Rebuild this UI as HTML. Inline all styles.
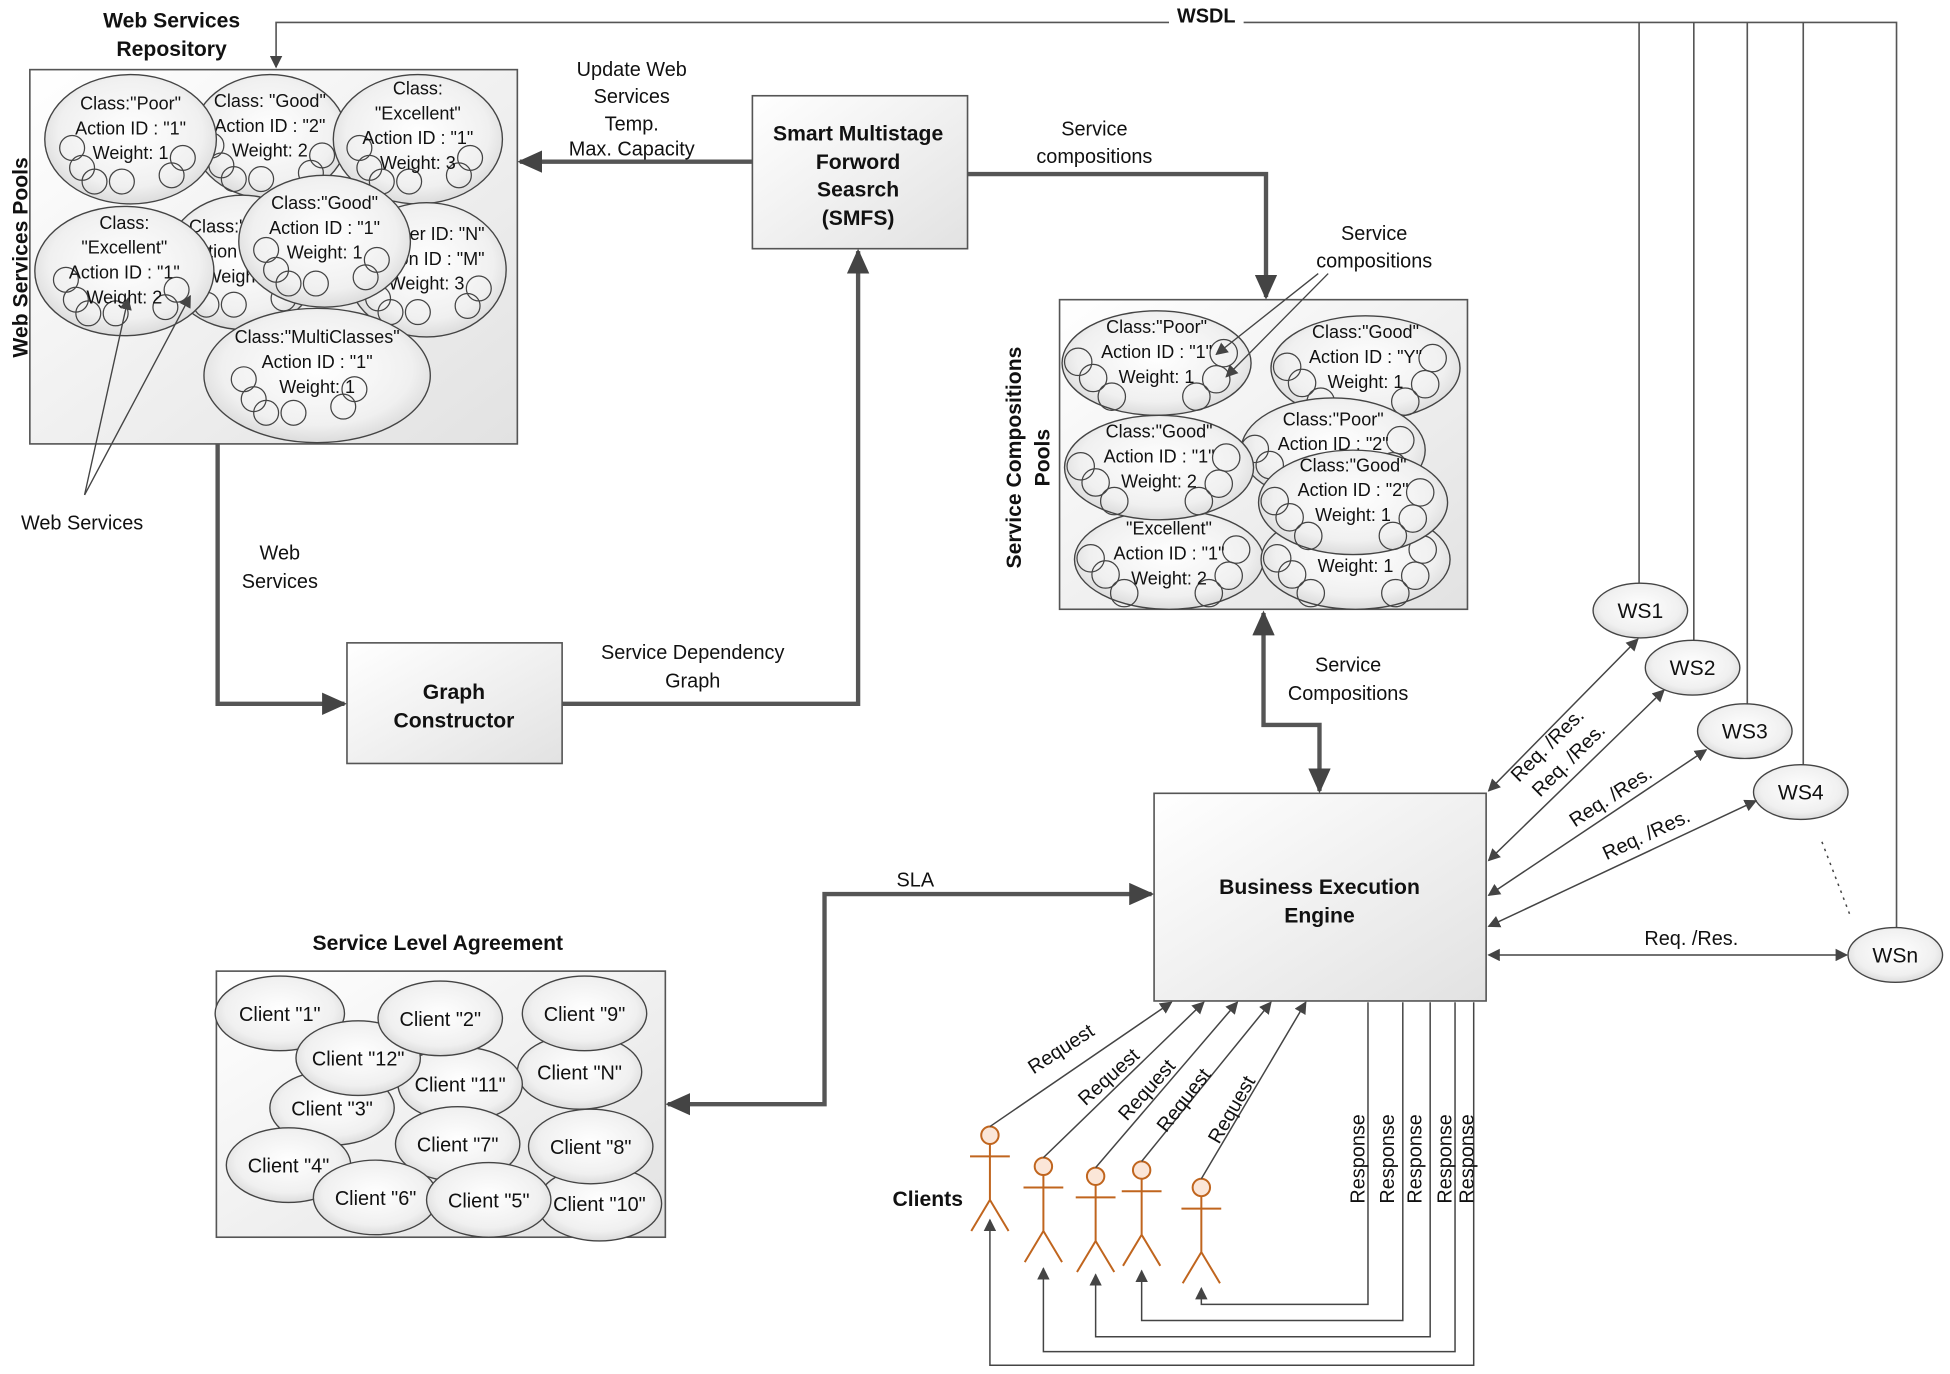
<!DOCTYPE html>
<html><head><meta charset="utf-8"><style>
html,body{margin:0;padding:0;background:#fff;}
svg{display:block;}
text{font-family:"Liberation Sans",sans-serif;fill:#111;}
.b{font-weight:bold;}
</style></head><body>
<svg width="1950" height="1374" viewBox="0 0 1568 1105" preserveAspectRatio="none" xmlns="http://www.w3.org/2000/svg">
<defs>
<radialGradient id="eg" cx="50%" cy="45%" r="60%"><stop offset="0" stop-color="#ffffff"/><stop offset="0.7" stop-color="#f0f0f0"/><stop offset="1" stop-color="#d4d4d4"/></radialGradient>
<linearGradient id="bg" x1="0" y1="0" x2="1" y2="1"><stop offset="0" stop-color="#ffffff"/><stop offset="1" stop-color="#e2e2e2"/></linearGradient>
<marker id="at" markerWidth="10" markerHeight="10" refX="9" refY="5" orient="auto" markerUnits="userSpaceOnUse"><path d="M0,0 L10,5 L0,10 z" fill="#444"/></marker>
<marker id="as" markerWidth="10" markerHeight="10" refX="1" refY="5" orient="auto" markerUnits="userSpaceOnUse"><path d="M10,0 L0,5 L10,10 z" fill="#444"/></marker>
<marker id="AT" markerWidth="20" markerHeight="18" refX="18" refY="9" orient="auto" markerUnits="userSpaceOnUse"><path d="M0,0 L20,9 L0,18 z" fill="#444"/></marker>
<marker id="AS" markerWidth="20" markerHeight="18" refX="2" refY="9" orient="auto" markerUnits="userSpaceOnUse"><path d="M20,0 L0,9 L20,18 z" fill="#444"/></marker>
<g id="cl" fill="none" stroke="#444" stroke-width="1">
<circle cx="-47" cy="7" r="10"/><circle cx="-39" cy="23" r="10"/><circle cx="-29" cy="34" r="10"/><circle cx="-7" cy="34" r="10"/><circle cx="33" cy="29" r="10"/><circle cx="42" cy="15" r="10"/>
</g>
<g id="cs" fill="none" stroke="#444" stroke-width="1">
<circle cx="-63" cy="-1" r="11"/><circle cx="-51" cy="12" r="11"/><circle cx="-36" cy="27" r="11"/><circle cx="32" cy="27" r="11"/><circle cx="48" cy="13" r="11"/><circle cx="54" cy="-8" r="11"/>
</g>
</defs>

<!-- WSDL lines -->
<g stroke="#555" stroke-width="1.3" fill="none">
<path d="M1525,748 L1525,18 L222,18 L222,54" marker-end="url(#at)"/>
<path d="M1318,18 L1318,472"/>
<path d="M1362,18 L1362,518"/>
<path d="M1405,18 L1405,568"/>
<path d="M1450,18 L1450,618"/>
</g>
<rect x="940" y="4" width="60" height="20" fill="#fff"/>
<text x="970" y="18" class="b" font-size="16" text-anchor="middle">WSDL</text>

<!-- Repository -->
<text x="138" y="22" class="b" font-size="17" text-anchor="middle">Web Services</text>
<text x="138" y="45" class="b" font-size="17" text-anchor="middle">Repository</text>
<rect x="24" y="56" width="392" height="301" fill="url(#bg)" stroke="#555" stroke-width="1.3"/>
<text transform="translate(22,207) rotate(-90)" class="b" font-size="17" text-anchor="middle">Web Services Pools</text>

<g stroke="#444" stroke-width="1.1" font-size="14.5">
<g transform="translate(217,110)"><ellipse rx="62" ry="50" fill="url(#eg)"/><use href="#cl"/><text y="-24" text-anchor="middle" stroke="none">Class: "Good"</text><text y="-4" text-anchor="middle" stroke="none">Action ID : "2"</text><text y="16" text-anchor="middle" stroke="none">Weight: 2</text></g>
<g transform="translate(105,112)"><ellipse rx="69" ry="52" fill="url(#eg)"/><use href="#cl"/><text y="-24" text-anchor="middle" stroke="none">Class:"Poor"</text><text y="-4" text-anchor="middle" stroke="none">Action ID : "1"</text><text y="16" text-anchor="middle" stroke="none">Weight: 1</text></g>
<g transform="translate(336,112)"><ellipse rx="68" ry="52" fill="url(#eg)"/><use href="#cl"/><text y="-36" text-anchor="middle" stroke="none">Class:</text><text y="-16" text-anchor="middle" stroke="none">"Excellent"</text><text y="4" text-anchor="middle" stroke="none">Action ID : "1"</text><text y="24" text-anchor="middle" stroke="none">Weight: 3</text></g>
<g transform="translate(195,211)"><ellipse rx="62" ry="54" fill="url(#eg)"/><use href="#cl"/><text y="-24" text-anchor="middle" stroke="none">Class:"Good"</text><text y="-4" text-anchor="middle" stroke="none">Action ID : "1"</text><text y="16" text-anchor="middle" stroke="none">Weight: 1</text></g>
<g transform="translate(343,217)"><ellipse rx="64" ry="54" fill="url(#eg)"/><use href="#cl"/><text y="-24" text-anchor="middle" stroke="none">Cluster ID: "N"</text><text y="-4" text-anchor="middle" stroke="none">Action ID : "M"</text><text y="16" text-anchor="middle" stroke="none">Weight: 3</text></g>
<g transform="translate(261,194)"><ellipse rx="69" ry="53" fill="url(#eg)"/><use href="#cl"/><text y="-26" text-anchor="middle" stroke="none">Class:"Good"</text><text y="-6" text-anchor="middle" stroke="none">Action ID : "1"</text><text y="14" text-anchor="middle" stroke="none">Weight: 1</text></g>
<g transform="translate(100,218)"><ellipse rx="72" ry="52" fill="url(#eg)"/><use href="#cl"/><text y="-34" text-anchor="middle" stroke="none">Class:</text><text y="-14" text-anchor="middle" stroke="none">"Excellent"</text><text y="6" text-anchor="middle" stroke="none">Action ID : "1"</text><text y="26" text-anchor="middle" stroke="none">Weight: 2</text></g>
<g transform="translate(255,302)"><ellipse rx="91" ry="54" fill="url(#eg)"/><use href="#cl" transform="translate(-12,-4)"/><text y="-26" text-anchor="middle" stroke="none">Class:"MultiClasses"</text><text y="-6" text-anchor="middle" stroke="none">Action ID : "1"</text><text y="14" text-anchor="middle" stroke="none">Weight: 1</text></g>
</g>
<g stroke="#444" stroke-width="1.1">
<line x1="68" y1="398" x2="103" y2="240" marker-end="url(#at)"/>
<line x1="68" y1="398" x2="153" y2="238" marker-end="url(#at)"/>
</g>
<text x="66" y="426" font-size="16" text-anchor="middle">Web Services</text>

<!-- SMFS -->
<rect x="605" y="77" width="173" height="123" fill="url(#bg)" stroke="#555" stroke-width="1.3"/>
<g class="b" font-size="17" text-anchor="middle"><text x="690" y="113" class="b">Smart Multistage</text><text x="690" y="136" class="b">Forword</text><text x="690" y="158" class="b">Seasrch</text><text x="690" y="181" class="b">(SMFS)</text></g>
<g font-size="16" text-anchor="middle"><text x="508" y="61">Update Web</text><text x="508" y="83">Services</text><text x="508" y="105">Temp.</text><text x="508" y="125">Max. Capacity</text>
<text x="880" y="109">Service</text><text x="880" y="131">compositions</text>
<text x="1105" y="193">Service</text><text x="1105" y="215">compositions</text>
<text x="225" y="450">Web</text><text x="225" y="473">Services</text>
<text x="557" y="530">Service Dependency</text><text x="557" y="553">Graph</text>
<text x="1084" y="540">Service</text><text x="1084" y="563">Compositions</text>
<text x="736" y="713">SLA</text>
</g>

<!-- thick arrows -->
<g stroke="#555" stroke-width="3.5" fill="none">
<line x1="605" y1="130" x2="418" y2="130" marker-end="url(#AT)"/>
<path d="M778,140 L1018,140 L1018,239" marker-end="url(#AT)"/>
<path d="M175,357 L175,566 L277,566" marker-end="url(#AT)"/>
<path d="M452,566 L690,566 L690,202" marker-end="url(#AT)"/>
<path d="M1016,493 L1016,583 L1061,583 L1061,636" marker-start="url(#AS)" marker-end="url(#AT)"/>
<path d="M926,719 L663,719 L663,888 L537,888" marker-start="url(#AS)" marker-end="url(#AT)"/>
</g>

<!-- Graph constructor -->
<rect x="279" y="517" width="173" height="97" fill="url(#bg)" stroke="#555" stroke-width="1.3"/>
<text x="365" y="562" class="b" font-size="17" text-anchor="middle">Graph</text>
<text x="365" y="585" class="b" font-size="17" text-anchor="middle">Constructor</text>

<!-- Service compositions pools -->
<rect x="852" y="241" width="328" height="249" fill="url(#bg)" stroke="#555" stroke-width="1.3"/>
<text transform="translate(821,368) rotate(-90)" class="b" font-size="17" text-anchor="middle">Service Compositions</text>
<text transform="translate(844,368) rotate(-90)" class="b" font-size="17" text-anchor="middle">Pools</text>
<g stroke="#444" stroke-width="1.1" font-size="14.5">
<g transform="translate(940,450)"><ellipse rx="76" ry="40" fill="url(#eg)"/><use href="#cs"/><text y="-20" text-anchor="middle" stroke="none">"Excellent"</text><text y="0" text-anchor="middle" stroke="none">Action ID : "1"</text><text y="20" text-anchor="middle" stroke="none">Weight: 2</text></g>
<g transform="translate(1090,450)"><ellipse rx="76" ry="40" fill="url(#eg)"/><use href="#cs"/><text y="10" text-anchor="middle" stroke="none">Weight: 1</text></g>
<g transform="translate(930,292)"><ellipse rx="76" ry="42" fill="url(#eg)"/><use href="#cs"/><text y="-24" text-anchor="middle" stroke="none">Class:"Poor"</text><text y="-4" text-anchor="middle" stroke="none">Action ID : "1"</text><text y="16" text-anchor="middle" stroke="none">Weight: 1</text></g>
<g transform="translate(1098,296)"><ellipse rx="76" ry="42" fill="url(#eg)"/><use href="#cs"/><text y="-24" text-anchor="middle" stroke="none">Class:"Good"</text><text y="-4" text-anchor="middle" stroke="none">Action ID : "Y"</text><text y="16" text-anchor="middle" stroke="none">Weight: 1</text></g>
<g transform="translate(1072,362)"><ellipse rx="74" ry="42" fill="url(#eg)"/><use href="#cs"/><text y="-20" text-anchor="middle" stroke="none">Class:"Poor"</text><text y="0" text-anchor="middle" stroke="none">Action ID : "2"</text></g>
<g transform="translate(932,376)"><ellipse rx="76" ry="42" fill="url(#eg)"/><use href="#cs"/><text y="-24" text-anchor="middle" stroke="none">Class:"Good"</text><text y="-4" text-anchor="middle" stroke="none">Action ID : "1"</text><text y="16" text-anchor="middle" stroke="none">Weight: 2</text></g>
<g transform="translate(1088,404)"><ellipse rx="76" ry="42" fill="url(#eg)"/><use href="#cs"/><text y="-25" text-anchor="middle" stroke="none">Class:"Good"</text><text y="-5" text-anchor="middle" stroke="none">Action ID : "2"</text><text y="15" text-anchor="middle" stroke="none">Weight: 1</text></g>
</g>
<g stroke="#444" stroke-width="1.1">
<line x1="1060" y1="220" x2="978" y2="285" marker-end="url(#at)"/>
<line x1="1068" y1="220" x2="986" y2="303" marker-end="url(#at)"/>
</g>

<!-- BEE -->
<rect x="928" y="638" width="267" height="167" fill="url(#bg)" stroke="#555" stroke-width="1.3"/>
<text x="1061" y="719" class="b" font-size="17" text-anchor="middle">Business Execution</text>
<text x="1061" y="742" class="b" font-size="17" text-anchor="middle">Engine</text>

<!-- WS ellipses -->
<g stroke="#444" stroke-width="1.1" font-size="17">
<g transform="translate(1319,491)"><ellipse rx="38" ry="22" fill="url(#eg)"/><text y="6" text-anchor="middle" stroke="none">WS1</text></g>
<g transform="translate(1361,537)"><ellipse rx="38" ry="22" fill="url(#eg)"/><text y="6" text-anchor="middle" stroke="none">WS2</text></g>
<g transform="translate(1403,588)"><ellipse rx="38" ry="22" fill="url(#eg)"/><text y="6" text-anchor="middle" stroke="none">WS3</text></g>
<g transform="translate(1448,637)"><ellipse rx="38" ry="22" fill="url(#eg)"/><text y="6" text-anchor="middle" stroke="none">WS4</text></g>
<g transform="translate(1524,768)"><ellipse rx="38" ry="22" fill="url(#eg)"/><text y="6" text-anchor="middle" stroke="none">WSn</text></g>
</g>
<g stroke="#444" stroke-width="1.2" fill="none">
<line x1="1197" y1="636" x2="1317" y2="514" marker-start="url(#as)" marker-end="url(#at)"/>
<line x1="1197" y1="692" x2="1338" y2="555" marker-start="url(#as)" marker-end="url(#at)"/>
<line x1="1197" y1="720" x2="1372" y2="603" marker-start="url(#as)" marker-end="url(#at)"/>
<line x1="1197" y1="745" x2="1412" y2="644" marker-start="url(#as)" marker-end="url(#at)"/>
<line x1="1197" y1="768" x2="1485" y2="768" marker-start="url(#as)" marker-end="url(#at)"/>
<line x1="1465" y1="677" x2="1488" y2="737" stroke-dasharray="2,4"/>
</g>
<g font-size="16">
<text transform="translate(1248,603) rotate(-45)" text-anchor="middle">Req. /Res.</text>
<text transform="translate(1265,615) rotate(-45)" text-anchor="middle">Req. /Res.</text>
<text transform="translate(1298,645) rotate(-33)" text-anchor="middle">Req. /Res.</text>
<text transform="translate(1326,676) rotate(-25)" text-anchor="middle">Req. /Res.</text>
<text x="1360" y="760" text-anchor="middle">Req. /Res.</text>
</g>

<!-- SLA -->
<text x="352" y="764" class="b" font-size="17" text-anchor="middle">Service Level Agreement</text>
<rect x="174" y="781" width="361" height="214" fill="url(#bg)" stroke="#555" stroke-width="1.3"/>
<g stroke="#444" stroke-width="1.1" font-size="16">
<g transform="translate(482,968)"><ellipse rx="50" ry="30" fill="url(#eg)"/><text y="6" text-anchor="middle" stroke="none">Client "10"</text></g>
<g transform="translate(466,862)"><ellipse rx="50" ry="30" fill="url(#eg)"/><text y="6" text-anchor="middle" stroke="none">Client "N"</text></g>
<g transform="translate(470,815)"><ellipse rx="50" ry="30" fill="url(#eg)"/><text y="6" text-anchor="middle" stroke="none">Client "9"</text></g>
<g transform="translate(475,922)"><ellipse rx="50" ry="30" fill="url(#eg)"/><text y="6" text-anchor="middle" stroke="none">Client "8"</text></g>
<g transform="translate(225,815)"><ellipse rx="52" ry="30" fill="url(#eg)"/><text y="6" text-anchor="middle" stroke="none">Client "1"</text></g>
<g transform="translate(370,872)"><ellipse rx="50" ry="30" fill="url(#eg)"/><text y="6" text-anchor="middle" stroke="none">Client "11"</text></g>
<g transform="translate(267,891)"><ellipse rx="50" ry="30" fill="url(#eg)"/><text y="6" text-anchor="middle" stroke="none">Client "3"</text></g>
<g transform="translate(288,851)"><ellipse rx="50" ry="30" fill="url(#eg)"/><text y="6" text-anchor="middle" stroke="none">Client "12"</text></g>
<g transform="translate(354,819)"><ellipse rx="50" ry="30" fill="url(#eg)"/><text y="6" text-anchor="middle" stroke="none">Client "2"</text></g>
<g transform="translate(368,920)"><ellipse rx="50" ry="30" fill="url(#eg)"/><text y="6" text-anchor="middle" stroke="none">Client "7"</text></g>
<g transform="translate(232,937)"><ellipse rx="50" ry="30" fill="url(#eg)"/><text y="6" text-anchor="middle" stroke="none">Client "4"</text></g>
<g transform="translate(302,963)"><ellipse rx="50" ry="30" fill="url(#eg)"/><text y="6" text-anchor="middle" stroke="none">Client "6"</text></g>
<g transform="translate(393,965)"><ellipse rx="50" ry="30" fill="url(#eg)"/><text y="6" text-anchor="middle" stroke="none">Client "5"</text></g>
</g>

<!-- Clients -->
<text x="746" y="970" class="b" font-size="17" text-anchor="middle">Clients</text>
<g stroke="#c0651e" stroke-width="1.6" fill="#fbe6d8">
<g transform="translate(796,913)"><circle r="7"/><path d="M0,7 V52 M-16,17 H16 M0,52 L-15,77 M0,52 L15,77" fill="none"/></g>
<g transform="translate(839,938)"><circle r="7"/><path d="M0,7 V52 M-16,17 H16 M0,52 L-15,77 M0,52 L15,77" fill="none"/></g>
<g transform="translate(881,946)"><circle r="7"/><path d="M0,7 V52 M-16,17 H16 M0,52 L-15,77 M0,52 L15,77" fill="none"/></g>
<g transform="translate(918,941)"><circle r="7"/><path d="M0,7 V52 M-16,17 H16 M0,52 L-15,77 M0,52 L15,77" fill="none"/></g>
<g transform="translate(966,955)"><circle r="7"/><path d="M0,7 V52 M-16,17 H16 M0,52 L-15,77 M0,52 L15,77" fill="none"/></g>
</g>
<g stroke="#444" stroke-width="1.2" fill="none">
<line x1="796" y1="906" x2="942" y2="806" marker-end="url(#at)"/>
<line x1="839" y1="931" x2="968" y2="806" marker-end="url(#at)"/>
<line x1="881" y1="939" x2="995" y2="806" marker-end="url(#at)"/>
<line x1="918" y1="934" x2="1022" y2="806" marker-end="url(#at)"/>
<line x1="966" y1="948" x2="1050" y2="806" marker-end="url(#at)"/>
<path d="M1100,806 V1049 H966 V1036" marker-end="url(#at)"/>
<path d="M1128,806 V1062 H918 V1022" marker-end="url(#at)"/>
<path d="M1150,806 V1075 H881 V1025" marker-end="url(#at)"/>
<path d="M1170,806 V1087 H839 V1020" marker-end="url(#at)"/>
<path d="M1185,806 V1098 H796 V981" marker-end="url(#at)"/>
</g>
<g font-size="16">
<text transform="translate(856,848) rotate(-33)" text-anchor="middle">Request</text>
<text transform="translate(895,870) rotate(-42)" text-anchor="middle">Request</text>
<text transform="translate(926,880) rotate(-48)" text-anchor="middle">Request</text>
<text transform="translate(956,888) rotate(-52)" text-anchor="middle">Request</text>
<text transform="translate(995,895) rotate(-60)" text-anchor="middle">Request</text>
<text transform="translate(1097,932) rotate(-90)" text-anchor="middle">Response</text>
<text transform="translate(1121,932) rotate(-90)" text-anchor="middle">Response</text>
<text transform="translate(1143,932) rotate(-90)" text-anchor="middle">Response</text>
<text transform="translate(1167,932) rotate(-90)" text-anchor="middle">Response</text>
<text transform="translate(1185,932) rotate(-90)" text-anchor="middle">Response</text>
</g>
</svg>
</body></html>
